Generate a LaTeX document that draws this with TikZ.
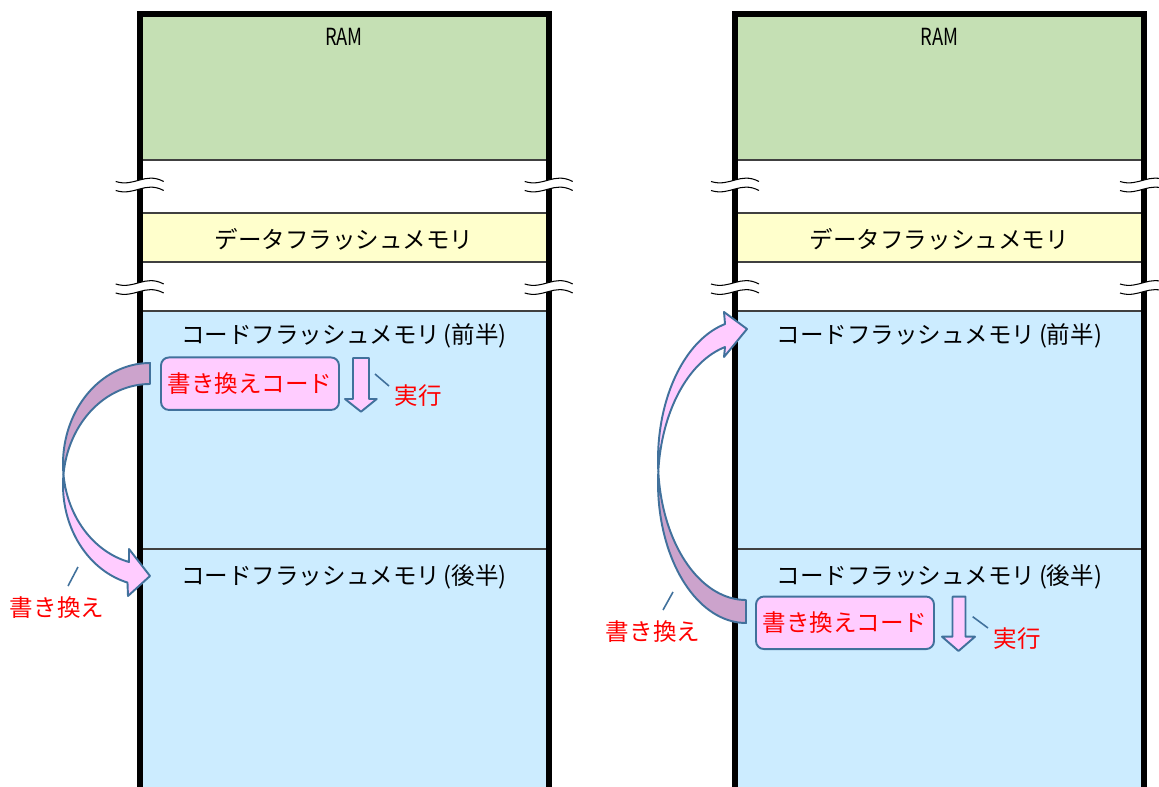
\documentclass[tikz,border=0pt]{standalone}
\usepackage{fontspec}
\setmainfont{Noto Sans CJK JP}
\usepackage{xcolor}
\usepackage{tikz}
\usetikzlibrary{positioning}

\definecolor{ramgreen}{HTML}{C5E0B4}
\definecolor{dfyellow}{HTML}{FFFFCC}
\definecolor{cfblue}{HTML}{CCECFF}
\definecolor{rwpink}{HTML}{FFCCFF}
\definecolor{rwdark}{HTML}{CCA3CC}
\definecolor{edgeblue}{HTML}{41719C}
\definecolor{sepgray}{HTML}{404040}

\tikzset{
    sepline/.style={draw=sepgray, line width=0.8pt},
    wallline/.style={line width=0.12cm, line join=miter},
    rwbox/.style={draw=edgeblue, line width=1.1pt, fill=rwpink, rounded corners=4.5pt,
        minimum width=3.56cm, minimum height=1.05cm, text=red, inner sep=0pt},
    bandarrow/.style={draw=edgeblue, line width=1.1pt, line join=round},
    leader/.style={draw=edgeblue, line width=0.9pt},
    redlabel/.style={text=red}
}

\newcommand{\breakmark}[2]{
    \begin{scope}[shift={(#1,#2)}]
        \fill[white] (-24,-4) .. controls (-5,2) and (5,-14) .. (24,-4)
            -- (24,5) .. controls (5,-5) and (-5,11) .. (-24,5) -- cycle;
        \draw[line width=0.6pt] (-24,-4) .. controls (-5,2) and (5,-14) .. (24,-4);
        \draw[line width=0.6pt] (-24,5) .. controls (-5,11) and (5,-5) .. (24,5);
    \end{scope}
}

\begin{document}
\begin{tikzpicture}[x=0.02cm, y=-0.02cm, font=\fontsize{13.4}{16}\selectfont]
    \useasboundingbox (0,0) rectangle (1159,787);
    \clip (0,0) rectangle (1159,787);

    \foreach \n/\ox in {1/0, 2/595.3} {
        \begin{scope}[shift={(\ox,0)}]
            \fill[ramgreen] (139.7,13.8) rectangle (548.7,160);
            \fill[dfyellow] (139.7,213) rectangle (548.7,262);
            \fill[cfblue] (139.7,311) rectangle (548.7,800);

            \draw[sepline] (139.7,160) -- (548.7,160);
            \draw[sepline] (139.7,213) -- (548.7,213);
            \draw[sepline] (139.7,262) -- (548.7,262);
            \draw[sepline] (139.7,311) -- (548.7,311);
            \draw[sepline] (139.7,549) -- (548.7,549);

            \draw[wallline] (139.7,800) -- (139.7,13.8) -- (548.7,13.8) -- (548.7,800);

            \breakmark{139.7}{185.5}
            \breakmark{548.7}{185.5}
            \breakmark{139.7}{288}
            \breakmark{548.7}{288}

            \node (ram\n) at (344,37) {\scalebox{0.78}[1]{RAM}};
            \node (dflash\n) at (344,239) {データフラッシュメモリ};
            \node (cfront\n) at (344,336) {コードフラッシュメモリ\kern.15em(前半)};
            \node (cback\n) at (344,577) {コードフラッシュメモリ\kern.15em(後半)};
        \end{scope}
    }

    % left: rewrite code in the first half
    \filldraw[bandarrow, fill=rwdark]
        plot[domain=270:174, samples=40] ({150+87*cos(\x)},{464+101*sin(\x)})
        -- plot[domain=186:270, samples=40] ({150+87*cos(\x)},{485+101*sin(\x)})
        -- cycle;
    \filldraw[bandarrow, fill=rwpink]
        plot[domain=174:104, samples=40] ({150+87*cos(\x)},{464+101*sin(\x)})
        -- (129,549) -- (150,576) -- (128,596)
        -- plot[domain=105:186, samples=40] ({150+87*cos(\x)},{485+101*sin(\x)})
        -- cycle;

    \node[rwbox] (rw1) at (250,383.7) {書き換えコード};
    \filldraw[bandarrow, fill=rwpink]
        (353,358) -- (369,358) -- (369,399) -- (376.7,399) -- (361,411.7)
        -- (345,399) -- (353,399) -- cycle;
    \node[redlabel] (exec1) at (418,396) {実行};
    \coordinate (ex1a) at (375,374);
    \coordinate (ex1b) at (389,386);
    \draw[leader] (ex1a) -- (ex1b);

    \node[redlabel] (rwlab1) at (57,608) {書き換え};
    \coordinate (rl1a) at (68,586);
    \coordinate (rl1b) at (78,567);
    \draw[leader] (rl1a) -- (rl1b);

    % right: rewrite code in the second half
    \filldraw[bandarrow, fill=rwdark]
        plot[domain=90:184.7, samples=40] ({746+88*cos(\x)},{483+140*sin(\x)})
        -- plot[domain=175.3:90, samples=40] ({746+88*cos(\x)},{460+140*sin(\x)})
        -- cycle;
    \filldraw[bandarrow, fill=rwpink]
        plot[domain=184.7:256.2, samples=40] ({746+88*cos(\x)},{483+140*sin(\x)})
        -- (724,357) -- (747,329) -- (724,312)
        -- plot[domain=256.2:175.3, samples=40] ({746+88*cos(\x)},{460+140*sin(\x)})
        -- cycle;

    \node[rwbox] (rw2) at (845,622.8) {書き換えコード};
    \filldraw[bandarrow, fill=rwpink]
        (952.5,596.7) -- (965.5,596.7) -- (965.5,636.7) -- (975,636.7) -- (958.5,651)
        -- (942,636.7) -- (952.5,636.7) -- cycle;
    \node[redlabel] (exec2) at (1017,639) {実行};
    \coordinate (ex2a) at (972.7,616.7);
    \coordinate (ex2b) at (988,628);
    \draw[leader] (ex2a) -- (ex2b);

    \node[redlabel] (rwlab2) at (653,632) {書き換え};
    \coordinate (rl2a) at (663,610);
    \coordinate (rl2b) at (673,592);
    \draw[leader] (rl2a) -- (rl2b);
\end{tikzpicture}
\end{document}
